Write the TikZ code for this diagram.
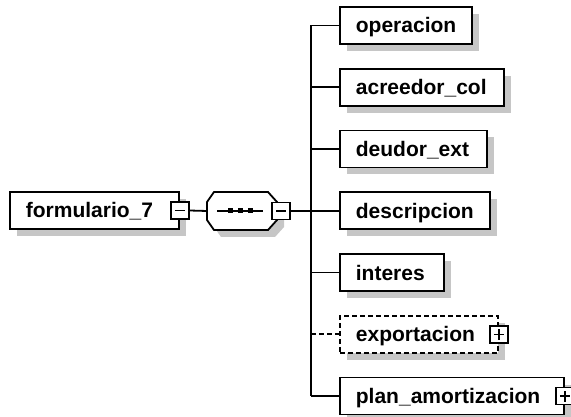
\documentclass[tikz,border=0pt]{standalone}
\usepackage{fontspec}
\setmainfont{Liberation Sans}
\usetikzlibrary{shadows}
\begin{document}
\begin{tikzpicture}[x=1pt,y=-1pt,
  shad/.style={drop shadow={shadow xshift=7pt,shadow yshift=-7pt,fill=gray!45,opacity=1}},
  elem/.style={draw,line width=1.8pt,fill=white,shad,rectangle,anchor=west,
    minimum height=37pt,inner xsep=16pt,inner ysep=0pt,text width=#1,align=left,
    font=\bfseries\fontsize{21pt}{25pt}\selectfont,text height=18pt,text depth=3pt},
  optelem/.style={elem=#1,dash pattern=on 5pt off 3pt},
  tbox/.style={draw,line width=1.5pt,fill=white,rectangle,minimum width=18pt,
    minimum height=17pt,inner sep=0pt},
  minusbox/.style={tbox,path picture={\draw[line width=1.5pt]
    ([xshift=4pt]path picture bounding box.west) -- ([xshift=-4pt]path picture bounding box.east);}},
  plusbox/.style={tbox,path picture={\draw[line width=1.5pt]
    ([xshift=4pt]path picture bounding box.west) -- ([xshift=-4pt]path picture bounding box.east)
    ([yshift=3pt]path picture bounding box.south) -- ([yshift=-3pt]path picture bounding box.north);}},
  conn/.style={line width=1.8pt},
  optconn/.style={conn,dash pattern=on 5pt off 3pt}]
\useasboundingbox (0,0) rectangle (571,417);

% root element
\node[elem=137pt] (root) at (9,210.5) {formulario\_7};
\node[minusbox] (rootm) at (root.east) {};

% sequence compositor
\draw[line width=1.8pt,fill=white,shad]
  (207,202) -- (214,192) -- (268,192) -- (277,202) -- (277,220) -- (268,230)
  -- (214,230) -- (207,220) -- cycle;
\coordinate (seq) at (207,211);
\draw[line width=1.8pt] (217,211) -- (263,211);
\foreach \x in {230,240,250}
  \fill (\x-2.5,208.5) rectangle ++(5,5);
\node[minusbox] (seqm) at (281,211) {};

% children
\node[elem=100pt] (c1) at (339,25.5) {operacion};
\node[elem=132pt] (c2) at (339,87.25) {acreedor\_col};
\node[elem=115pt] (c3) at (339,149) {deudor\_ext};
\node[elem=118pt] (c4) at (339,210.75) {descripcion};
\node[elem=72pt] (c5) at (339,272.5) {interes};
\node[optelem=126pt] (c6) at (339,334.25) {exportacion};
\node[plusbox] (c6p) at (c6.east) {};
\node[elem=192pt] (c7) at (339,396) {plan\_amortizacion};
\node[plusbox] (c7p) at (c7.east) {};

% bar
\coordinate (barx) at (311,0);
\draw[conn] (rootm.east) -- (seq);
\draw[conn] (seqm.east) -- (seqm.east -| barx);
\draw[conn] (c1.west -| barx) -- (c7.west -| barx);
\foreach \c in {c1,c2,c3,c4,c5,c7}
  \draw[conn] (\c.west -| barx) -- (\c.west);
\draw[optconn] (c6.west -| barx) -- (c6.west);
\end{tikzpicture}
\end{document}
